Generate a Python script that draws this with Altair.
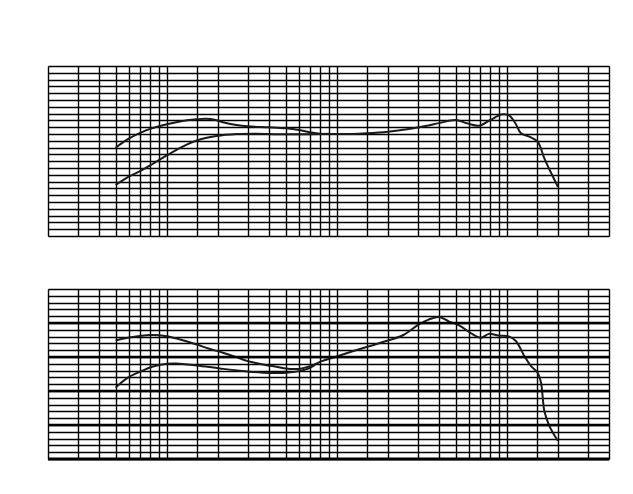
import altair as alt
import pandas as pd

# Grid frequencies (Hz) for vertical lines
grid_freqs = [20, 30, 40, 50, 60, 70, 80, 90, 100, 150, 200, 300, 400, 500, 600, 700, 800, 900,
              1000, 1500, 2000, 3000, 4000, 5000, 6000, 7000, 8000, 9000, 10000, 15000, 20000,
              30000, 40000]
grid_db = list(range(0, 51, 2))
thick_db = [10, 20, 30, 40]

# Top panel, upper curve
a_freq = [50, 59, 71, 80, 100, 124, 150, 170, 191, 214, 257, 300, 400, 500, 600, 700, 800, 990,
          1240, 1500, 2000, 2650, 3320, 4000, 5000, 5840, 6880, 8000, 9470, 10370, 11250,
          12150, 13600, 15200, 16660, 18300, 20000]
a_db = [25.97, 28.5, 30.5, 31.5, 32.85, 33.82, 34.32, 34.50, 34.20, 33.44, 32.65, 32.26, 31.97,
        31.67, 31.18, 30.50, 30.09, 30.0, 30.0, 30.2, 30.68, 31.47, 32.35, 33.2, 34.12,
        33.15, 32.44, 34.12, 35.79, 35.38, 33.15, 30.2, 29.2, 27.73, 22.85, 18.44, 14.5]

# Top panel, lower curve
b_freq = [50, 59, 71, 82, 100, 124, 150, 196, 257, 336, 456, 600, 800, 900]
b_db = [15.0, 17.3, 19.3, 21.1, 23.7, 26.3, 28.1, 29.41, 30.0, 30.1, 29.95, 29.95, 30.0, 30.05]

# Bottom panel, upper curve
c_freq = [50, 59, 71, 80, 90, 100, 124, 150, 178, 214, 257, 300, 368, 456, 500, 600, 700, 817,
          990, 1240, 1556, 2000, 2450, 3030, 3470, 4000, 4560, 5250, 6110, 7040, 7860, 8960,
          10370, 11360, 12710, 13910, 15200, 15920, 16660, 17820, 20000]
c_db = [34.85, 35.63, 36.22, 36.45, 36.4, 36.1, 34.93, 33.67, 32.41, 31.24, 29.95, 28.78, 27.82,
        27.0, 26.6, 26.5, 27.32, 28.78, 30.07, 31.71, 33.17, 34.84, 36.4, 39.53, 40.99, 41.78,
        40.49, 39.32, 37.1, 35.63, 36.8, 36.3, 36.0, 34.64, 30.25, 27.32, 25.39, 22.46, 14.14,
        9.75, 5.36]

# Bottom panel, lower curve
d_freq = [50, 59, 71, 82, 100, 114, 150, 205, 280, 368, 456, 500, 600, 700, 760]
d_db = [20.99, 23.92, 25.85, 27.14, 28.02, 28.11, 27.52, 26.64, 25.85, 25.39, 25.3, 25.35, 25.85,
        26.85, 28.1]

W, H = 561, 170

xs = alt.Scale(type="log", domain=[20, 40000], nice=False)
ys = alt.Scale(domain=[0, 50], nice=False, zero=False)
xaxis = alt.Axis(values=grid_freqs, grid=True, gridColor="#000000", gridWidth=1.4, gridOpacity=1,
                 labels=False, ticks=False, domain=False, title=None)
yaxis = alt.Axis(values=grid_db, grid=True, gridColor="#000000", gridWidth=1.4, gridOpacity=1,
                 labels=False, ticks=False, domain=False, title=None)


def curves(pairs):
    rows = []
    for name, fr, db in pairs:
        for f, d in zip(fr, db):
            rows.append({"series": name, "freq": f, "db": d})
    df = pd.DataFrame(rows)
    return alt.Chart(df).mark_line(color="#1a1a1a", strokeWidth=2, interpolate="catmull-rom").encode(
        x=alt.X("freq:Q", scale=xs, axis=xaxis),
        y=alt.Y("db:Q", scale=ys, axis=yaxis),
        detail="series:N",
    )


top = curves([("A", a_freq, a_db), ("B", b_freq, b_db)]).properties(width=W, height=H)

thick_df = pd.DataFrame({"db": thick_db})
thick = alt.Chart(thick_df).mark_rule(color="#000000", strokeWidth=2.4).encode(
    y=alt.Y("db:Q", scale=ys, axis=yaxis))
base_df = pd.DataFrame({"db": [0]})
base = alt.Chart(base_df).mark_rule(color="#000000", strokeWidth=2.8).encode(
    y=alt.Y("db:Q", scale=ys, axis=yaxis))

bottom = alt.layer(curves([("C", c_freq, c_db), ("D", d_freq, d_db)]), thick, base).properties(
    width=W, height=H)

chart = alt.vconcat(top, bottom, spacing=51).properties(
    padding={"left": 38, "top": 57, "right": 5, "bottom": 5}
).configure_view(stroke="#000000", strokeWidth=1.4).configure(background="white")

chart.save("out.html", embed_options={"renderer": "svg", "actions": False})
